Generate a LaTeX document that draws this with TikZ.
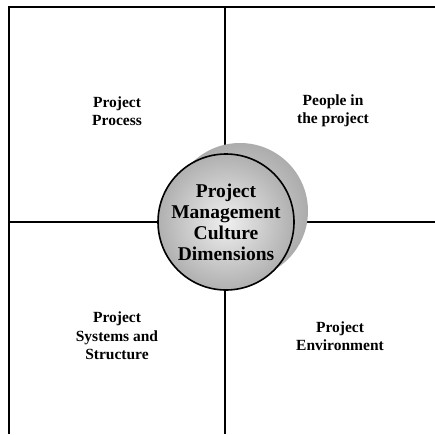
\documentclass[tikz,border=0pt]{standalone}
\usepackage{amsmath}
\usepackage{amssymb}
\usepackage{fontspec}
\setmainfont{Liberation Serif}

\begin{document}
\begin{tikzpicture}[x=1pt,y=-1pt,
  frame/.style={line width=2pt},
  quad/.style={font=\bfseries\fontsize{15.5}{18.5}\selectfont, align=center},
  hub/.style={circle, draw, line width=1.6pt, minimum size=136pt, inner sep=0pt,
    inner color=gray!12, outer color=gray!62,
    font=\bfseries\fontsize{19.5}{21}\selectfont, align=center}]
\useasboundingbox (0,0) rectangle (435,434);
% frame of the four quadrants
\coordinate (tl) at (9,7);
\coordinate (tr) at (435,7);
\coordinate (bl) at (9,434);
\coordinate (tm) at (225,7);
\coordinate (bm) at (225,434);
\coordinate (ml) at (9,222);
\coordinate (mr) at (435,222);
\draw[frame] (tr) -- (tl) -- (bl);
\draw[frame] (tm) -- (bm);
\draw[frame] (ml) -- (mr);
% quadrant labels
\node[quad] (proc) at (117,111) {Project\\Process};
\node[quad] (people) at (333,111) {People in\\the project};
\node[quad] (sys) at (117,336) {Project\\Systems and\\Structure};
\node[quad] (env) at (340,336) {Project\\Environment};
% centre disc with its shadow
\shade[inner color=gray!25, outer color=gray!65] (240,211) circle (68);
\node[hub] (core) at (226,222) {Project\\Management\\Culture\\Dimensions};
\end{tikzpicture}
\end{document}
